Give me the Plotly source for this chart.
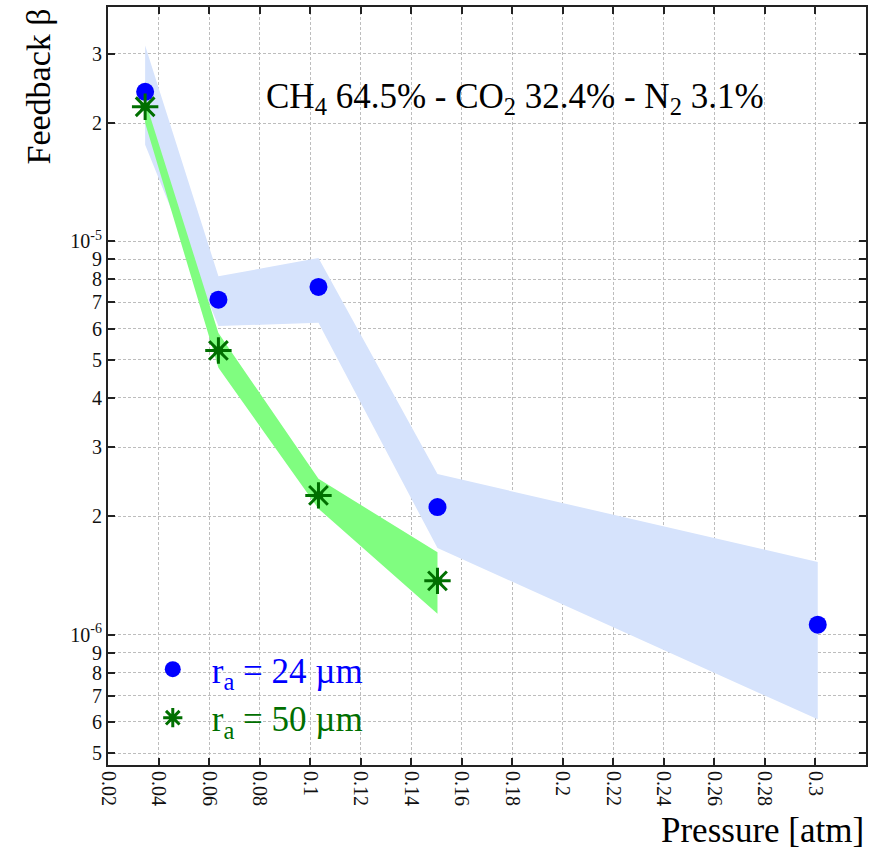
import plotly.graph_objects as go

# Feedback coefficient vs pressure, CH4/CO2/N2 mixture
pressure_24 = [0.0347, 0.0637, 0.1033, 0.1504, 0.3009]
beta_24 = [2.40e-5, 7.11e-6, 7.66e-6, 2.11e-6, 1.06e-6]
band_24_upper = [3.15e-5, 8.15e-6, 9.07e-6, 2.56e-6, 1.53e-6]
band_24_lower = [1.76e-5, 6.09e-6, 6.21e-6, 1.66e-6, 6.09e-7]

pressure_50 = [0.0347, 0.0637, 0.1033, 0.1504]
beta_50 = [2.20e-5, 5.28e-6, 2.26e-6, 1.37e-6]
band_50_upper = [2.28e-5, 5.85e-6, 2.49e-6, 1.62e-6]
band_50_lower = [2.00e-5, 4.77e-6, 2.09e-6, 1.13e-6]

x_ticks = [0.02, 0.04, 0.06, 0.08, 0.1, 0.12, 0.14, 0.16, 0.18, 0.2,
           0.22, 0.24, 0.26, 0.28, 0.3]
x_tick_text = ["0.02", "0.04", "0.06", "0.08", "0.1", "0.12", "0.14", "0.16",
               "0.18", "0.2", "0.22", "0.24", "0.26", "0.28", "0.3"]
y_ticks = [5e-7, 6e-7, 7e-7, 8e-7, 9e-7, 1e-6, 2e-6, 3e-6, 4e-6, 5e-6,
           6e-6, 7e-6, 8e-6, 9e-6, 1e-5, 2e-5, 3e-5]
y_tick_text = ["5", "6", "7", "8", "9", "10<sup>-6</sup>", "2", "3", "4", "5",
               "6", "7", "8", "9", "10<sup>-5</sup>", "2", "3"]

SERIF = "Liberation Serif, Times New Roman, serif"
BLUE_BAND = "#d6e3fc"
GREEN_BAND = "#80fd80"
BLUE = "#0000ff"
DARK_GREEN = "#006f00"

fig = go.Figure()

# uncertainty bands
fig.add_trace(go.Scatter(
    x=pressure_24 + pressure_24[::-1],
    y=band_24_upper + band_24_lower[::-1],
    fill="toself", fillcolor=BLUE_BAND, line=dict(width=0),
    mode="lines", showlegend=False, hoverinfo="skip"))
fig.add_trace(go.Scatter(
    x=pressure_50 + pressure_50[::-1],
    y=band_50_upper + band_50_lower[::-1],
    fill="toself", fillcolor=GREEN_BAND, line=dict(width=0),
    mode="lines", showlegend=False, hoverinfo="skip"))

# measured points
fig.add_trace(go.Scatter(
    x=pressure_24, y=beta_24, mode="markers",
    marker=dict(symbol="circle", size=18, color=BLUE),
    name=f"<span style='color:{BLUE}'>r<sub>a</sub> = 24 \u00b5m</span>",
    legendgroup="a"))
# star marker: thin asterisk with a small solid core
fig.add_trace(go.Scatter(
    x=pressure_50, y=beta_50, mode="markers",
    marker=dict(symbol="hexagram", size=9, color=DARK_GREEN,
                line=dict(width=0)),
    showlegend=False, hoverinfo="skip"))
fig.add_trace(go.Scatter(
    x=pressure_50, y=beta_50, mode="markers",
    marker=dict(symbol="asterisk-open", size=22, angle=90,
                color=DARK_GREEN, line=dict(width=3, color=DARK_GREEN)),
    name=f"<span style='color:{DARK_GREEN}'>r<sub>a</sub> = 50 \u00b5m</span>",
    legendgroup="b"))

axis_common = dict(
    showline=True, linecolor="#222", linewidth=2, mirror="ticks",
    ticks="inside", ticklen=7, tickwidth=1.5, tickcolor="#222",
    showgrid=True, gridcolor="#bdbdbd", gridwidth=1, griddash="3px,2px",
    zeroline=False, tickfont=dict(family=SERIF, size=20, color="#111"),
)

fig.update_xaxes(
    range=[0.02, 0.32], tickvals=x_ticks, ticktext=x_tick_text,
    tickangle=90, **axis_common)
fig.update_yaxes(
    type="log", range=[-6.3315, -4.404], tickvals=y_ticks,
    ticktext=y_tick_text, **axis_common)

fig.add_annotation(
    text="CH<sub>4</sub> 64.5% - CO<sub>2</sub> 32.4% - N<sub>2</sub> 3.1%",
    xref="paper", yref="paper", x=0.537, y=0.879, xanchor="center",
    yanchor="middle", showarrow=False,
    font=dict(family=SERIF, size=35, color="#000"))
fig.add_annotation(
    text="Feedback \u03b2", textangle=-90,
    xref="paper", yref="paper", x=-0.093, y=1.0, xanchor="center",
    yanchor="top", showarrow=False,
    font=dict(family=SERIF, size=34, color="#000"))
fig.add_annotation(
    text="Pressure [atm]",
    xref="paper", yref="paper", x=1.0, y=-0.058, xanchor="right",
    yanchor="top", showarrow=False,
    font=dict(family=SERIF, size=35, color="#000"))

fig.update_layout(
    width=877, height=854,
    margin=dict(l=108, r=11, t=5, b=89),
    paper_bgcolor="white", plot_bgcolor="white",
    showlegend=True,
    legend=dict(x=0.034, y=0.165, xanchor="left", yanchor="top",
                bgcolor="rgba(0,0,0,0)", borderwidth=0,
                font=dict(family=SERIF, size=35),
                tracegroupgap=0, itemsizing="trace", itemwidth=68),
)

fig.write_html("out.html")
